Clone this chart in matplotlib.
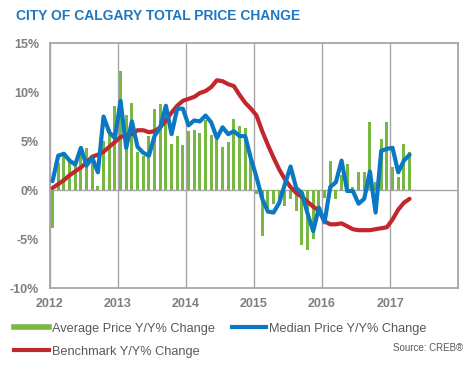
import matplotlib
matplotlib.use("Agg")
import matplotlib.pyplot as plt
from matplotlib.lines import Line2D
import numpy as np
import pandas as pd

# monthly series, Jan 2012 - Apr 2017 (Y/Y % change)
months = pd.date_range("2012-01-01", periods=64, freq="MS")

avg_price = [
    -3.9, 2.8, 3.5, 3.0, 2.8, 4.2, 4.3, 3.0, 0.4, 5.0, 6.2, 8.6,      # 2012
    12.1, 7.7, 8.9, 3.9, 3.5, 5.5, 8.3, 8.8, 8.6, 4.7, 5.5, 4.6,      # 2013
    6.0, 6.1, 5.8, 7.1, 5.6, 5.1, 4.4, 4.9, 7.2, 6.5, 6.3, 3.7,       # 2014
    -0.4, -4.7, -1.8, -1.4, -1.2, -1.6, -0.9, -2.1, -5.6, -6.1, -5.0, -1.8,  # 2015
    -0.8, 3.0, -0.9, 1.5, 2.7, 0.3, 1.8, 1.8, 6.9, 0.8, 5.2, 6.9,     # 2016
    2.3, 1.3, 4.7, 3.9,                                               # 2017
]

median_price = [
    0.9, 3.5, 3.7, 3.0, 2.6, 4.3, 2.5, 3.3, 1.8, 7.5, 5.9, 5.3,
    9.1, 4.3, 7.0, 4.4, 3.8, 3.5, 5.5, 6.4, 8.6, 5.7, 8.3, 8.3,
    6.6, 7.1, 7.0, 7.6, 6.9, 5.3, 6.4, 5.7, 6.0, 5.5, 5.5, 3.2,
    1.3, -0.9, -2.2, -2.3, -1.3, 0.6, 2.4, 0.2, -0.3, -2.4, -4.2, -1.8,
    -3.3, 0.3, 0.8, 3.0, -0.1, -0.1, -1.4, -0.9, 1.9, -2.3, 4.0, 4.2,
    4.3, 1.8, 3.0, 3.6,
]

benchmark = [
    0.2, 0.6, 1.0, 1.5, 1.9, 2.3, 2.8, 3.4, 3.6, 3.9, 4.4, 4.9,
    5.4, 5.6, 5.7, 6.1, 6.1, 5.9, 6.0, 6.4, 7.1, 7.9, 8.6, 9.1,
    9.3, 9.5, 9.9, 10.1, 10.5, 11.2, 11.1, 10.8, 10.6, 9.7, 8.9, 8.3,
    7.6, 6.0, 4.6, 3.3, 2.1, 1.1, 0.3, -0.3, -0.7, -1.2, -1.7, -2.1,
    -3.2, -3.5, -3.5, -3.4, -3.7, -4.0, -4.1, -4.1, -4.1, -4.0, -3.9, -3.8,
    -3.0, -2.0, -1.3, -0.9,
]

years = [2012, 2013, 2014, 2015, 2016, 2017]
yticks = [-10, -5, 0, 5, 10, 15]

GREEN = "#77b843"
BLUE = "#0a78c2"
RED = "#c1272d"
GRID = "#a6a6a6"
TICK = "#7f7f7f"
TEXT = "#595959"

plt.rcParams["font.family"] = ["Liberation Sans", "DejaVu Sans"]

# decimal-year position of each month
x = months.year + (months.month - 1 + 0.45) / 12.0

fig = plt.figure(figsize=(4.77, 3.66), dpi=100)
ax = fig.add_axes([0.1048, 0.2131, 0.8554, 0.6694])

ax.bar(x, avg_price, width=0.5 / 12, color=GREEN, zorder=2)
ax.plot(x, benchmark, color=RED, lw=3.0, solid_capstyle="round", zorder=3)
ax.plot(x, median_price, color=BLUE, lw=3.0, solid_capstyle="round", zorder=4)

ax.set_xlim(2012, 2018)
ax.set_ylim(-10, 15)
ax.set_xticks(years)
ax.set_xticklabels([str(y) for y in years])
ax.set_yticks(yticks)
ax.set_yticklabels([f"{v}%" for v in yticks])
ax.tick_params(length=0, labelsize=9, labelcolor=TICK)
ax.tick_params(axis="y", pad=8)
ax.tick_params(axis="x", pad=7)
for lab in ax.get_xticklabels() + ax.get_yticklabels():
    lab.set_fontweight("bold")

ax.grid(axis="x", color=GRID, lw=1.0, zorder=1)
ax.axhline(0, color=GRID, lw=1.0, zorder=1)
for s in ax.spines.values():
    s.set_color(GRID)
    s.set_linewidth(1.3)

fig.text(0.034, 0.957, "CITY OF CALGARY TOTAL PRICE CHANGE", fontsize=10,
         fontweight="bold", color="#1f77c1", va="center", ha="left")

handles = [Line2D([], [], color=GREEN, lw=4),
           Line2D([], [], color=RED, lw=3),
           Line2D([], [], color=BLUE, lw=3)]
labels = ["Average Price Y/Y% Change", "Benchmark Y/Y% Change",
          "Median Price Y/Y% Change"]
fig.legend(handles, labels, ncol=2, loc="upper left",
           bbox_to_anchor=(0.03, 0.118), frameon=False, fontsize=9.2,
           handlelength=2.7, handletextpad=0.25, columnspacing=1.3,
           labelspacing=0.85, borderpad=0, borderaxespad=0, labelcolor=TEXT)

fig.text(0.971, 0.048, "Source: CREB®", fontsize=7, color=TEXT,
         ha="right", va="center")

fig.savefig("out.png", dpi=100)
